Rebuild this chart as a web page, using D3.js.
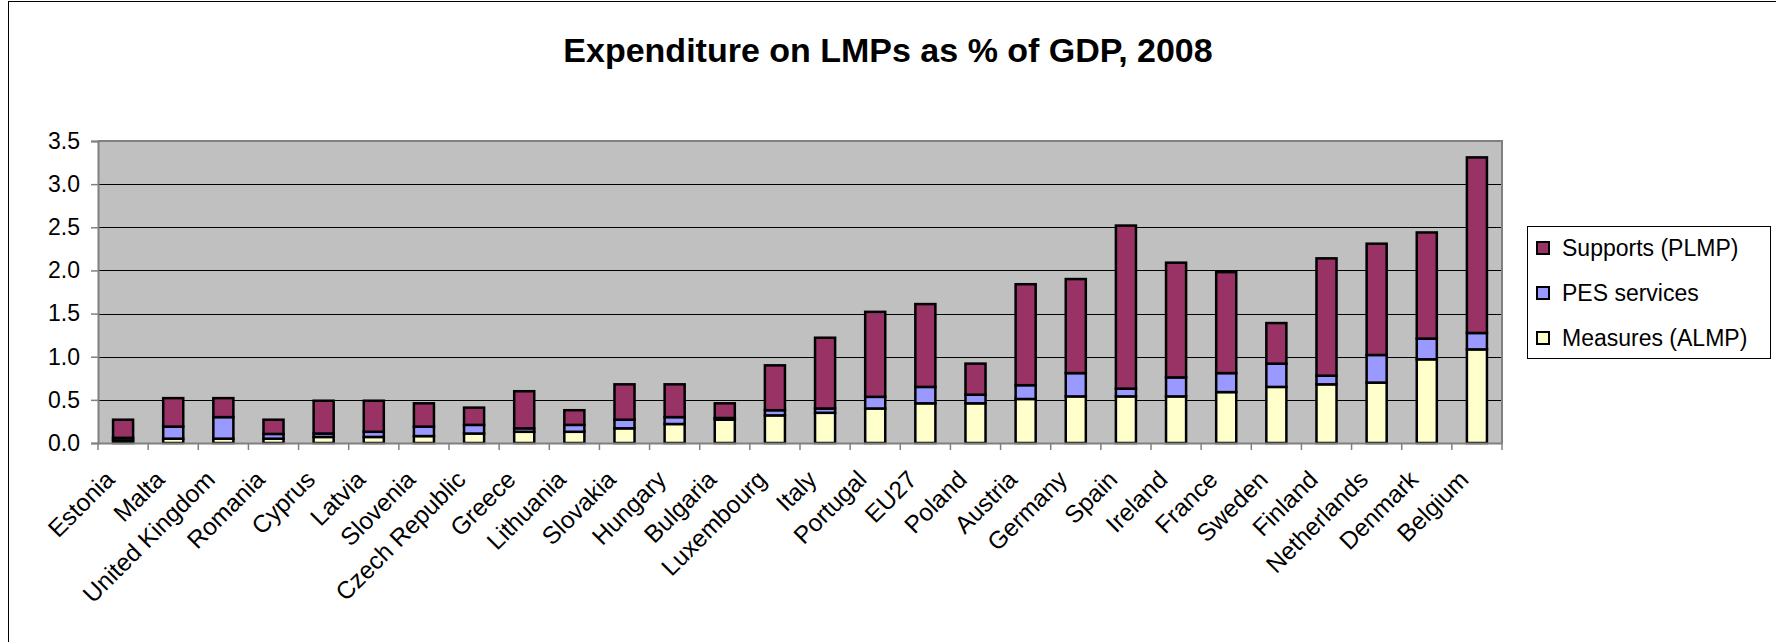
<!DOCTYPE html>
<html>
<head>
<meta charset="utf-8">
<script src="https://cdn.jsdelivr.net/npm/d3@7"></script>
<style>
  html, body { margin: 0; padding: 0; background: #fff; }
  svg { display: block; font-family: "Liberation Sans", Arial, sans-serif; }
</style>
</head>
<body>
<svg id="chart" width="1776" height="642"></svg>
<script>
const categories = ["Estonia","Malta","United Kingdom","Romania","Cyprus","Latvia","Slovenia","Czech Republic","Greece","Lithuania","Slovakia","Hungary","Bulgaria","Luxembourg","Italy","Portugal","EU27","Poland","Austria","Germany","Spain","Ireland","France","Sweden","Finland","Netherlands","Denmark","Belgium"];
const measuresALMP = [0.03,0.05,0.05,0.05,0.07,0.07,0.08,0.11,0.13,0.13,0.17,0.22,0.27,0.32,0.35,0.40,0.46,0.46,0.51,0.54,0.54,0.54,0.59,0.65,0.68,0.70,0.97,1.085];
const pesServices  = [0.03,0.14,0.25,0.055,0.04,0.06,0.11,0.10,0.04,0.08,0.10,0.08,0.02,0.06,0.05,0.135,0.19,0.10,0.16,0.27,0.09,0.22,0.22,0.27,0.10,0.32,0.24,0.19];
const supportsPLMP = [0.21,0.33,0.22,0.165,0.38,0.36,0.27,0.20,0.43,0.17,0.41,0.38,0.17,0.52,0.82,0.985,0.96,0.36,1.17,1.09,1.89,1.33,1.17,0.47,1.36,1.29,1.23,2.035];
const seriesNames = ["Measures (ALMP)","PES services","Supports (PLMP)"];
const seriesColors = ["#FFFFCC","#9999FF","#993366"];
const yTicks = [0,0.5,1.0,1.5,2.0,2.5,3.0,3.5];
const title = "Expenditure on LMPs as % of GDP, 2008";

const svg = d3.select("#chart");
const W = 1776, H = 642;
const plot = {left: 98, right: 1502, top: 141, bottom: 443};

// outer chart border
svg.append("rect").attr("x", 8.5).attr("y", 1.5).attr("width", W + 10).attr("height", H + 10)
  .attr("fill", "#fff").attr("stroke", "#000").attr("stroke-width", 1);

// title
svg.append("text").attr("x", W / 2).attr("y", 62).attr("text-anchor", "middle")
  .attr("font-size", 34).attr("font-weight", "bold").attr("fill", "#000").text(title);

const x = d3.scaleBand().domain(categories).range([plot.left, plot.right])
  .paddingInner(0.6).paddingOuter(0.3);
const y = d3.scaleLinear().domain([0, 3.5]).range([plot.bottom, plot.top]);

// plot background
svg.append("rect").attr("x", plot.left).attr("y", plot.top)
  .attr("width", plot.right - plot.left).attr("height", plot.bottom - plot.top)
  .attr("fill", "#C0C0C0");

// gridlines
svg.append("g").selectAll("line").data(yTicks.filter(t => t > 0 && t < 3.5)).join("line")
  .attr("x1", plot.left).attr("x2", plot.right)
  .attr("y1", d => Math.round(y(d)) + 0.5).attr("y2", d => Math.round(y(d)) + 0.5)
  .attr("stroke", "#000").attr("stroke-width", 1);

// plot border top/right
svg.append("path")
  .attr("d", `M${plot.left},${plot.top}H${plot.right}V${plot.bottom}`)
  .attr("fill", "none").attr("stroke", "#808080").attr("stroke-width", 2);

// stacked bars
const rows = categories.map((c, i) => ({
  cat: c,
  "Measures (ALMP)": measuresALMP[i],
  "PES services": pesServices[i],
  "Supports (PLMP)": supportsPLMP[i]
}));
const stacked = d3.stack().keys(seriesNames)(rows);
const gBars = svg.append("g");
stacked.forEach((s, si) => {
  gBars.append("g").selectAll("rect").data(s).join("rect")
    .attr("x", d => x(d.data.cat))
    .attr("y", d => y(d[1]))
    .attr("width", x.bandwidth())
    .attr("height", d => y(d[0]) - y(d[1]))
    .attr("fill", seriesColors[si])
    .attr("stroke", "#000").attr("stroke-width", 2.5);
});

// y axis
const yAxis = d3.axisLeft(y).tickValues(yTicks).tickFormat(d3.format(".1f")).tickSize(7).tickPadding(11);
const gy = svg.append("g").attr("transform", `translate(${plot.left},0)`).call(yAxis);
gy.select(".domain").attr("stroke", "#808080").attr("stroke-width", 2);
gy.selectAll(".tick line").attr("stroke", "#808080").attr("stroke-width", 1.5);
gy.selectAll(".tick text").attr("font-size", 23).attr("fill", "#000")
  .attr("font-family", "'Liberation Sans', Arial, sans-serif");

// x axis
const xAxis = d3.axisBottom(x).tickSize(0).tickFormat(d => d);
const gx = svg.append("g").attr("transform", `translate(0,${plot.bottom})`).call(xAxis);
gx.select(".domain").attr("stroke", "#808080").attr("stroke-width", 2);
// ticks at band boundaries
const boundaries = categories.map(c => x(c) - (x.step() - x.bandwidth()) / 2).concat([plot.right]);
svg.append("g").selectAll("line").data(boundaries).join("line")
  .attr("x1", d => d).attr("x2", d => d).attr("y1", plot.bottom).attr("y2", plot.bottom + 7)
  .attr("stroke", "#808080").attr("stroke-width", 1.5);
gx.selectAll(".tick text")
  .attr("font-size", 24.5).attr("fill", "#000")
  .attr("font-family", "'Liberation Sans', Arial, sans-serif")
  .attr("text-anchor", "end")
  .attr("dy", null).attr("y", 0).attr("x", 0)
  .attr("transform", "translate(-7,38) rotate(-45)");

// legend
const leg = svg.append("g");
leg.append("rect").attr("x", 1527.5).attr("y", 226.5).attr("width", 243).attr("height", 132)
  .attr("fill", "#fff").attr("stroke", "#000").attr("stroke-width", 1);
const legOrder = [2, 1, 0];
const legY = [248, 293, 338];
legOrder.forEach((si, k) => {
  leg.append("rect").attr("x", 1537).attr("y", legY[k] - 6).attr("width", 12).attr("height", 12)
    .attr("fill", seriesColors[si]).attr("stroke", "#000").attr("stroke-width", 2);
  leg.append("text").attr("x", 1562).attr("y", legY[k]).attr("dy", "0.35em")
    .attr("font-size", 23).attr("fill", "#000").text(seriesNames[si]);
});
</script>
</body>
</html>
